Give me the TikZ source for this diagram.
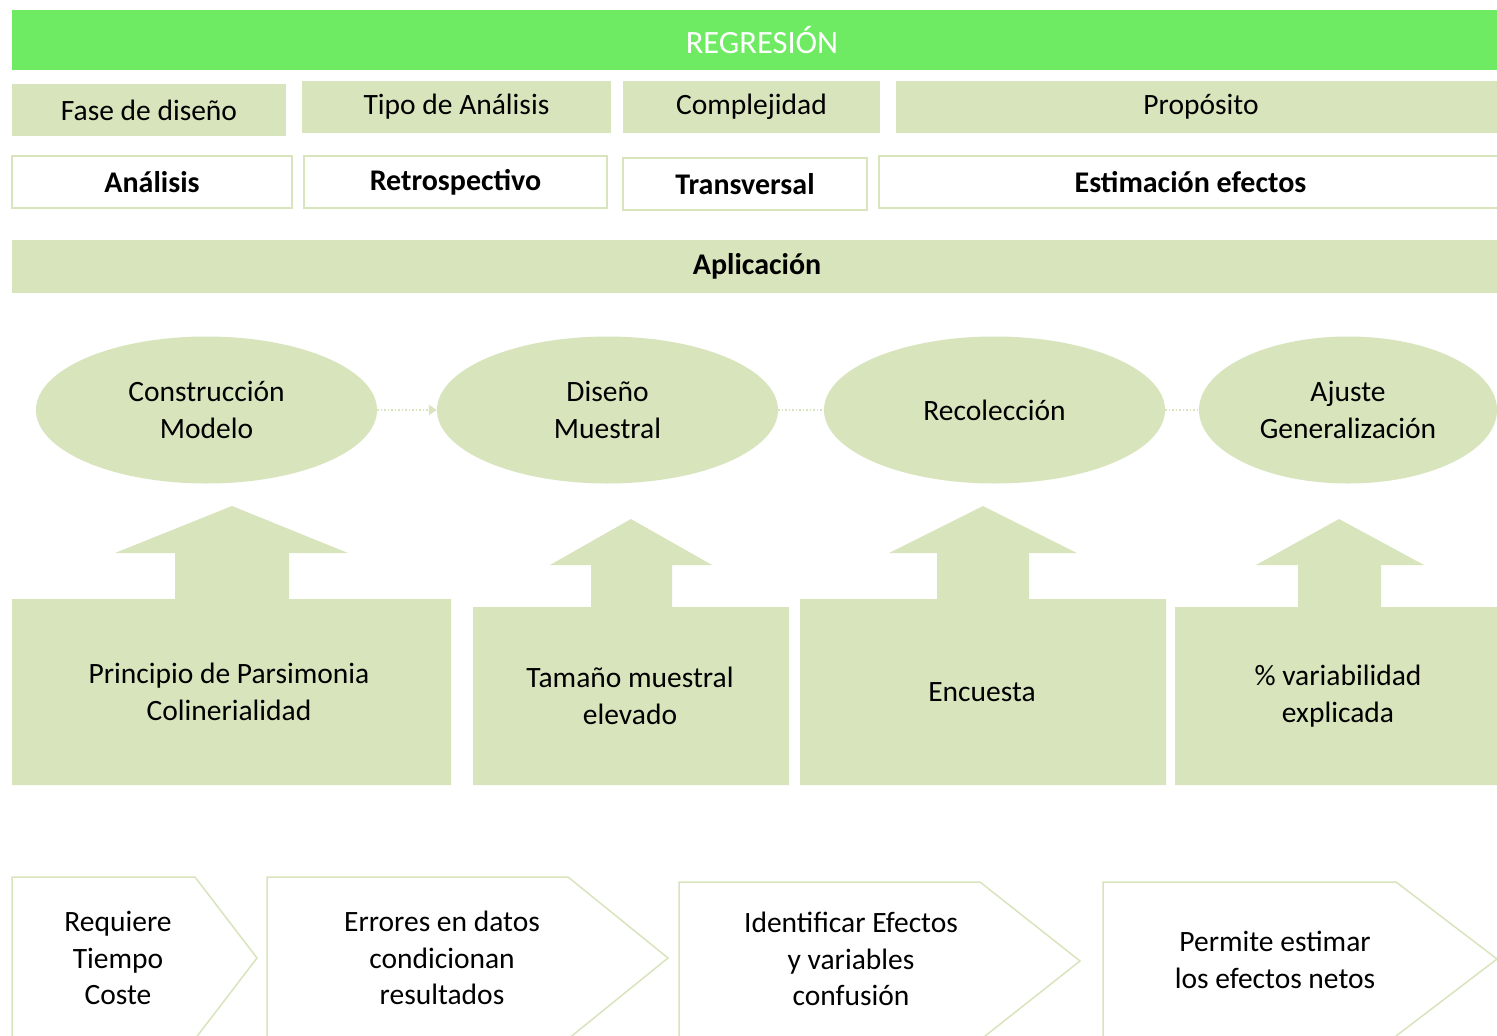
\documentclass[tikz,border=0pt]{standalone}
\usepackage{fontspec}
\setmainfont{Carlito}
\usetikzlibrary{shapes.geometric,arrows.meta}
\definecolor{lg}{HTML}{D8E4BC}
\definecolor{bg}{HTML}{6EEB62}
\tikzset{
  fnt/.style={font=\fontsize{29.5}{36.5}\selectfont, align=center, text=black},
  hdr/.style={fnt, fill=lg, draw=none, inner sep=0pt},
  wbox/.style={fnt, font=\fontsize{30}{36.5}\selectfont\bfseries, fill=white, draw=lg, line width=2pt, inner sep=0pt},
  oval/.style={fnt, ellipse, fill=lg, draw=none, inner sep=0pt, minimum width=341pt, minimum height=147pt},
  blk/.style={fill=lg, draw=none},
  chev/.style={fill=white, draw=lg, line width=1.5pt, line join=miter},
  conn/.style={draw=lg, line width=1.5pt, dotted},
  lbl/.style={fnt, inner sep=0pt},
}
\begin{document}
\begin{tikzpicture}[x=1pt,y=-1pt]
\path[use as bounding box] (0,0) rectangle (1497,1036);
\clip (0,0) rectangle (1497,1036);
\fill[white] (0,0) rectangle (1497,1036);

% top bar
\node[hdr, fill=bg, minimum width=1485pt, minimum height=60pt] (top) at (754.5,40) {};
\node[lbl, font=\fontsize{32.5}{36.5}\selectfont] (toptxt) at (762,40) {\color{white}REGRESIÓN};

% header row
\node[hdr, minimum width=274pt, minimum height=52pt] (h1) at (149,110) {Fase de diseño};
\node[hdr, minimum width=309pt, minimum height=52pt] (h2) at (456.5,107) {Tipo de Análisis};
\node[hdr, minimum width=257pt, minimum height=52pt] (h3) at (751.5,107) {Complejidad};
\node[hdr, minimum width=610pt, minimum height=52pt] (h4) at (1201,107) {Propósito};

% value row
\node[wbox, minimum width=280pt, minimum height=52pt] (v1) at (152,182) {Análisis};
\node[wbox, minimum width=303pt, minimum height=52pt] (v2) at (455.5,182) {Retrospectivo};
\node[wbox, minimum width=244pt, minimum height=52pt] (v3) at (745,184) {Transversal};
\node[wbox, minimum width=623pt, minimum height=52pt] (v4) at (1190.5,182) {Estimación efectos};

% aplicacion bar
\node[hdr, minimum width=1485pt, minimum height=53pt] (apl) at (754.5,266.5) {};
\node[lbl, font=\fontsize{30}{36.5}\selectfont\bfseries] (apltxt) at (757,266.5) {Aplicación};

% ellipses
\node[oval] (e1) at (206.5,410) {Construcción\\Modelo};
\node[oval] (e2) at (607.5,410) {Diseño\\Muestral};
\node[oval] (e3) at (994.5,410) {Recolección};
\node[oval, minimum width=298pt] (e4) at (1348,410) {Ajuste\\Generalización};

\draw[conn, -{Triangle[length=8pt,width=10pt]}] (e1.east) -- (e2.west);
\draw[conn] (e2.east) -- (e3.west);
\draw[conn] (e3.east) -- (e4.west);

% up-arrow callouts
\fill[blk] (12,785) -- (12,599) -- (175,599) -- (175,553) -- (115,553) -- (232,506) -- (348,553) -- (289,553) -- (289,599) -- (451,599) -- (451,785) -- cycle;
\fill[blk] (473,785) -- (473,607) -- (591,607) -- (591,565) -- (550,565) -- (631,519) -- (712,565) -- (672,565) -- (672,607) -- (789,607) -- (789,785) -- cycle;
\fill[blk] (800,785) -- (800,599) -- (937,599) -- (937,553) -- (889,553) -- (983,506) -- (1077,553) -- (1029,553) -- (1029,599) -- (1166,599) -- (1166,785) -- cycle;
\fill[blk] (1175,785) -- (1175,607) -- (1298,607) -- (1298,565) -- (1256,565) -- (1339,519) -- (1424,565) -- (1381,565) -- (1381,607) -- (1497,607) -- (1497,785) -- cycle;

\node[lbl] (c1) at (229,692) {Principio de Parsimonia\\Colinerialidad};
\node[lbl] (c2) at (630,696) {Tamaño muestral\\elevado};
\node[lbl] (c3) at (982,692) {Encuesta};
\node[lbl] (c4) at (1338,696) {\% variabilidad\\explicada};

% chevrons
\draw[chev] (12,1045) -- (12,877) -- (195,877) -- (257,958) -- (195,1039) -- (195,1045);
\draw[chev] (267,1045) -- (267,877) -- (568,877) -- (668,958) -- (568,1039) -- (568,1045);
\draw[chev] (679,1045) -- (679,882) -- (980,882) -- (1080,961) -- (980,1040) -- (980,1045);
\draw[chev] (1103,1045) -- (1103,882) -- (1396,882) -- (1497,959) -- (1396,1036) -- (1396,1045);

\node[lbl] (b1) at (118,958) {Requiere\\Tiempo\\Coste};
\node[lbl] (b2) at (442,958) {Errores en datos\\condicionan\\resultados};
\node[lbl] (b3) at (851,959) {Identificar Efectos\\y variables\\confusión};
\node[lbl] (b4) at (1275,960) {Permite estimar\\los efectos netos};
\end{tikzpicture}
\end{document}
